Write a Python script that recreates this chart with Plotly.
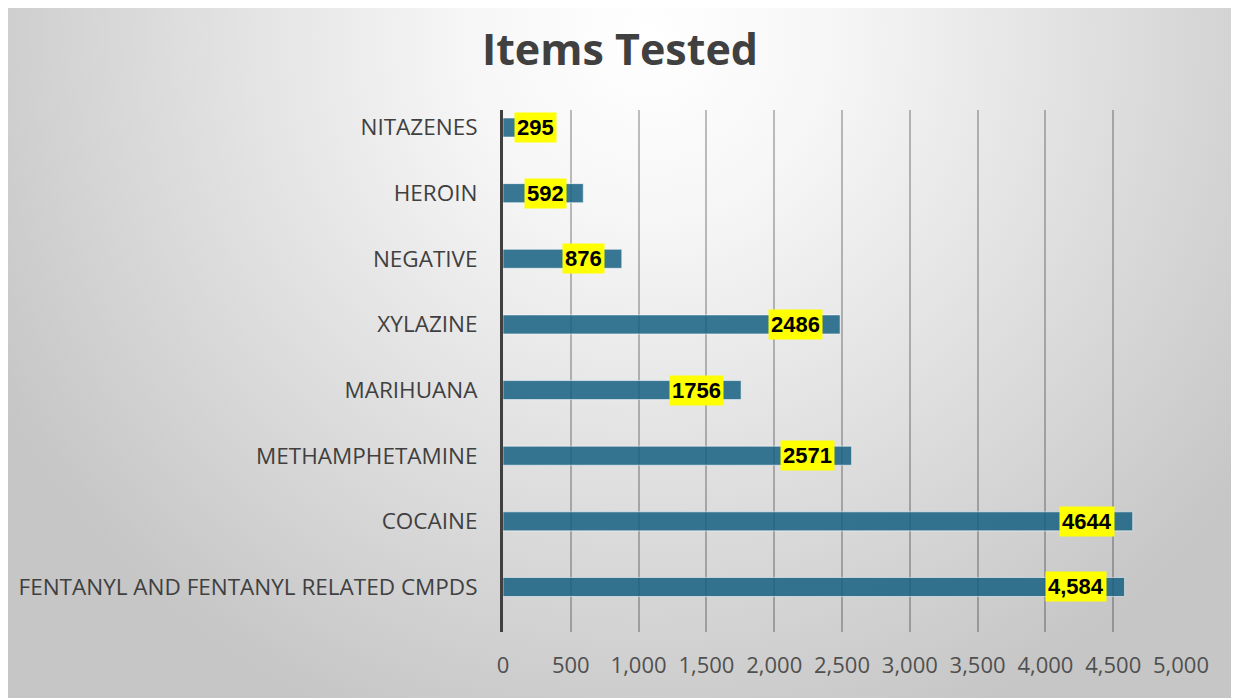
'''
    Horizontal bar chart of the items tested, one bar per substance.
'''
import base64
import plotly.graph_objects as go

categories = ['NITAZENES', 'HEROIN', 'NEGATIVE', 'XYLAZINE', 'MARIHUANA',
              'METHAMPHETAMINE', 'COCAINE', 'FENTANYL AND FENTANYL RELATED CMPDS']
counts = [295, 592, 876, 2486, 1756, 2571, 4644, 4584]
count_labels = ['295', '592', '876', '2486', '1756', '2571', '4644', '4,584']

# page body has an 8px margin, so the figure is sized to fit the window
W, H = 1231, 690
L, R, T, B = 495, 58, 102, 66
pw, ph = W - L - R, H - T - B

# soft radial shading behind the whole figure
svg = f'''<svg xmlns="http://www.w3.org/2000/svg" width="{W}" height="{H}">
<defs><radialGradient id="g" gradientUnits="userSpaceOnUse" cx="640" cy="30" r="740">
<stop offset="0" stop-color="#ffffff"/><stop offset="0.25" stop-color="#f6f6f6"/>
<stop offset="1" stop-color="#c6c6c6"/></radialGradient></defs>
<rect width="{W}" height="{H}" fill="url(#g)"/></svg>'''
bg_src = 'data:image/svg+xml;base64,' + base64.b64encode(svg.encode()).decode()

fig = go.Figure()

fig.add_trace(go.Bar(
      x=counts,
      y=categories,
      orientation='h',
      width=0.29,
      marker=dict(color='rgba(21,96,130,0.85)',
                  line=dict(color='rgba(255,255,255,0.55)', width=1)),
      hoverinfo='x+y'
))

shifts = [14, -16, -17, -17, -17, -17, -18, -18]
for cat, val, lab, sh in zip(categories, counts, count_labels, shifts):
      fig.add_annotation(
            x=val, y=cat, text='<b>' + lab + '</b>',
            xanchor='right', xshift=sh, showarrow=False,
            bgcolor='#ffff00', borderpad=2,
            font=dict(family='Liberation Sans, Arial', size=22, color='#000000')
      )

fig.add_layout_image(
      source=bg_src, xref='paper', yref='paper',
      x=-L / pw, y=(H - B) / ph, sizex=W / pw, sizey=H / ph,
      xanchor='left', yanchor='top', sizing='stretch', layer='below'
)

fig.update_layout(
      width=W,
      height=H,
      margin=dict(l=L, r=R, t=T, b=B),
      paper_bgcolor='#d8d8d8',
      plot_bgcolor='rgba(0,0,0,0)',
      showlegend=False,
      title=dict(text='<b>Items Tested</b>', x=(620 - 8) / W, xref='container',
                 y=1 - 42 / H, yanchor='middle',
                 font=dict(family='Open Sans', size=43, color='#404040')),
      xaxis=dict(
            range=[0, 5000], dtick=500, tickformat=',d',
            showgrid=True, gridcolor='rgba(0,0,0,0.25)', gridwidth=2,
            zeroline=False, ticks='', ticklabelstandoff=18,
            tickfont=dict(family='Open Sans', size=22, color='#505050')
      ),
      yaxis=dict(
            categoryorder='array', categoryarray=categories,
            range=[7.686, -0.267],
            showgrid=False, zeroline=False,
            showline=True, linecolor='#404040', linewidth=3,
            ticks='', ticklabelstandoff=18,
            tickfont=dict(family='Open Sans', size=22.5, color='#404040')
      )
)

fig.write_html('out.html')
